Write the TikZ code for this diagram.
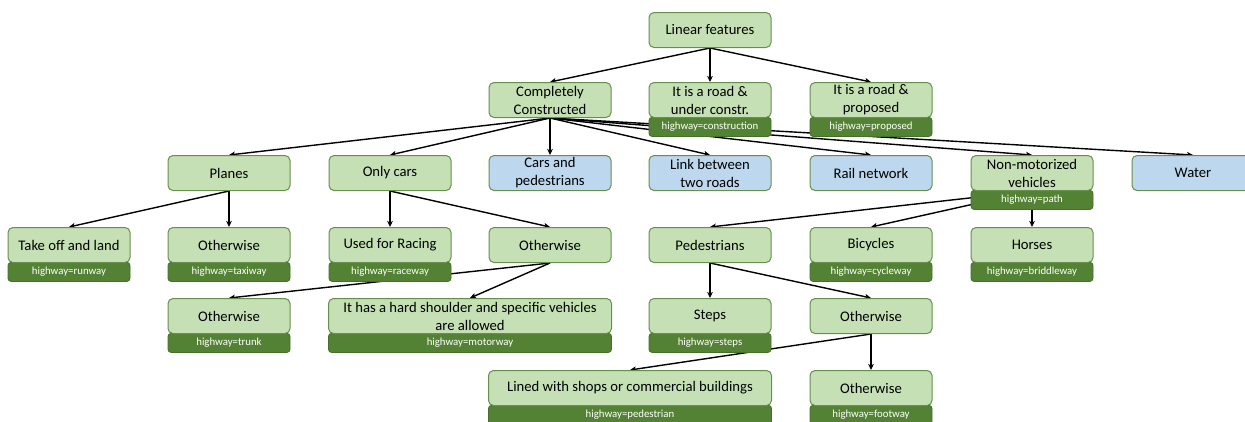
\documentclass[tikz,border=0pt]{standalone}
\usepackage{fontspec}
\setmainfont{Carlito}
\usetikzlibrary{arrows.meta}
\pgfdeclarelayer{edges}
\pgfdeclarelayer{tags}
\pgfsetlayers{edges,tags,main}
\definecolor{lg}{HTML}{C5E0B4}
\definecolor{bd}{HTML}{678F4C}
\definecolor{dg}{HTML}{548235}
\definecolor{dgb}{HTML}{44702A}
\definecolor{lb}{HTML}{BDD7EE}
\tikzset{
  box/.style={draw=bd, fill=lg, line width=1pt, rounded corners=5pt,
    minimum width=122pt, minimum height=35pt, inner sep=0pt, align=center,
    anchor=north, font=\fontsize{14.67}{18}\selectfont},
  bbox/.style={box, fill=lb},
  wbox/.style={box, minimum width=283pt},
  tag/.style={draw=dgb, fill=dg, line width=0.8pt, rounded corners=3pt,
    minimum width=122pt, minimum height=19pt, inner sep=0pt, anchor=north,
    text=white, font=\fontsize{10.8}{12}\selectfont, yshift=1pt},
  wtag/.style={tag, minimum width=283pt},
  arr/.style={line width=1.4pt, -{Stealth[length=6pt,width=5.5pt,inset=1.5pt]}}
}
\begin{document}
\begin{tikzpicture}[x=1pt,y=-1pt]
\useasboundingbox (0,0) rectangle (1245,421);
% boxes
\node[box]  (lf)  at (710,12)  {Linear features};
\node[box]  (cc)  at (550,82)  {Completely\\Constructed};
\node[box]  (uc)  at (710,82)  {It is a road \&\\under constr.};
\node[box]  (pr)  at (871,82)  {It is a road \&\\proposed};
\node[box]  (pl)  at (229,155) {Planes};
\node[box]  (oc)  at (390,155) {Only cars};
\node[bbox] (cp)  at (550,155) {Cars and\\pedestrians};
\node[bbox] (lk)  at (710,155) {Link between\\two roads};
\node[bbox] (rn)  at (871,155) {Rail network};
\node[box]  (nm)  at (1032,155) {Non-motorized\\vehicles};
\node[bbox] (wa)  at (1193,155) {Water};
\node[box]  (tl)  at (69,227)  {Take off and land};
\node[box]  (ot1) at (229,227) {Otherwise};
\node[box]  (ra)  at (390,227) {Used for Racing};
\node[box]  (ot2) at (550,227) {Otherwise};
\node[box]  (pe)  at (710,227) {Pedestrians};
\node[box]  (bi)  at (871,227) {Bicycles};
\node[box]  (ho)  at (1032,227) {Horses};
\node[box]  (tr)  at (229,298) {Otherwise};
\node[wbox] (mw)  at (470,298) {It has a hard shoulder and specific vehicles\\are allowed};
\node[box]  (st)  at (710,298) {Steps};
\node[box]  (ot3) at (871,298) {Otherwise};
\node[wbox] (sh)  at (630,370) {Lined with shops or commercial buildings};
\node[box]  (fw)  at (871,370) {Otherwise};
% tags
\begin{pgfonlayer}{tags}
\node[tag]  (uc-t) at (uc.south) {highway=construction};
\node[tag]  (pr-t) at (pr.south) {highway=proposed};
\node[tag]  (nm-t) at (nm.south) {highway=path};
\node[tag]  (tl-t) at (tl.south) {highway=runway};
\node[tag]  (ot1-t) at (ot1.south) {highway=taxiway};
\node[tag]  (ra-t) at (ra.south) {highway=raceway};
\node[tag]  (bi-t) at (bi.south) {highway=cycleway};
\node[tag]  (ho-t) at (ho.south) {highway=briddleway};
\node[tag]  (tr-t) at (tr.south) {highway=trunk};
\node[wtag] (mw-t) at (mw.south) {highway=motorway};
\node[tag]  (st-t) at (st.south) {highway=steps};
\node[wtag] (sh-t) at (sh.south) {highway=pedestrian};
\node[tag]  (fw-t) at (fw.south) {highway=footway};
\end{pgfonlayer}
% connectors
\begin{pgfonlayer}{edges}
\foreach \a/\b in {lf/cc, lf/uc, lf/pr,
  cc/pl, cc/oc, cc/cp, cc/lk, cc/rn, cc/nm, cc/wa,
  pl/tl, pl/ot1, oc/ra, oc/ot2, ot2/tr, ot2/mw,
  nm/pe, nm/bi, nm/ho, pe/st, pe/ot3, ot3/sh, ot3/fw}
  \draw[arr] (\a.south) -- (\b.north);
\end{pgfonlayer}
\end{tikzpicture}
\end{document}
